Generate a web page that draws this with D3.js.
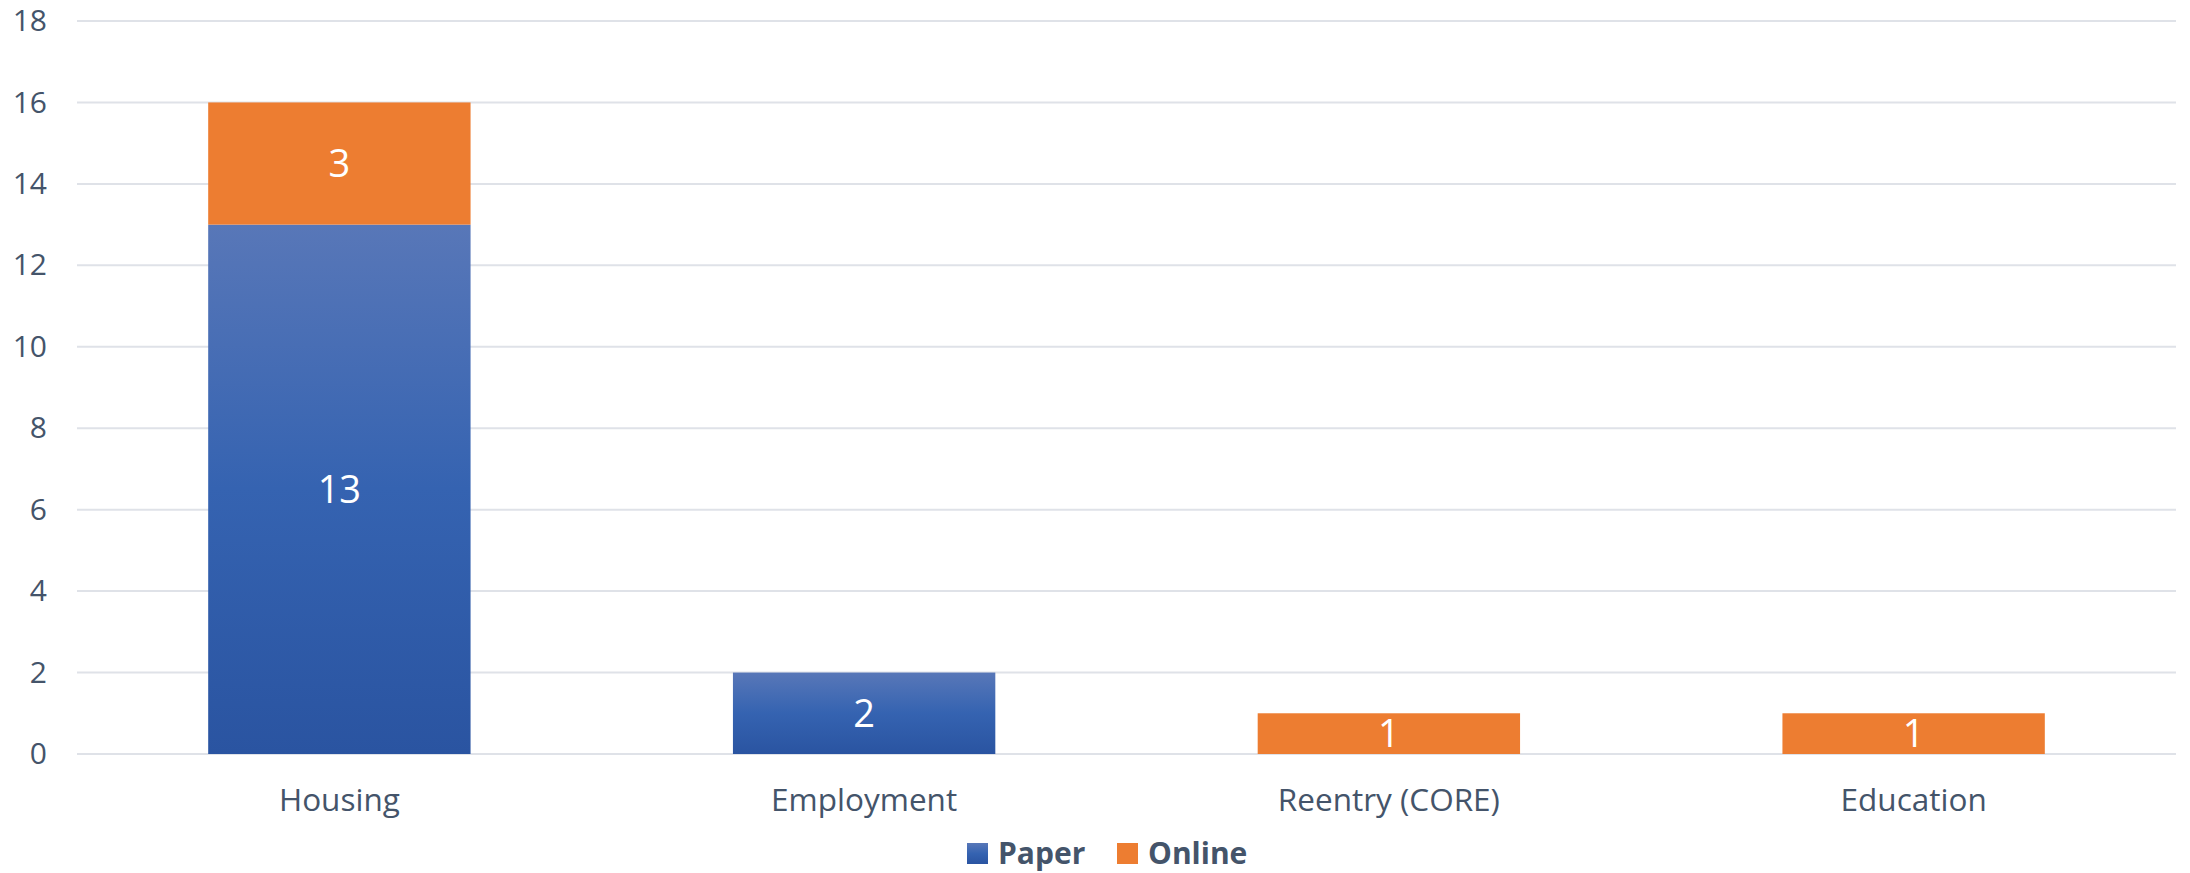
<!DOCTYPE html>
<html>
<head>
<meta charset="utf-8">
<script src="https://cdn.jsdelivr.net/npm/d3@7"></script>
<style>
  html, body { margin: 0; padding: 0; background: #fff; }
  svg text { font-family: "Open Sans", "Noto Sans", sans-serif; }
</style>
</head>
<body>
<script>
const categories = ["Housing", "Employment", "Reentry (CORE)", "Education"];
const paper = [13, 2, 0, 0];
const online = [3, 0, 1, 1];
const seriesNames = ["Paper", "Online"];
const yTicks = [0, 2, 4, 6, 8, 10, 12, 14, 16, 18];

const width = 2190;
const height = 873;
const margin = {top: 21, right: 14, bottom: 119, left: 77};

const textColor = "#44546a";
const orange = "#ed7d31";

const svg = d3.select("body").append("svg")
  .attr("width", width)
  .attr("height", height);

// blue gradient like the Excel fill
const defs = svg.append("defs");
const grad = defs.append("linearGradient")
  .attr("id", "paperGrad")
  .attr("x1", 0).attr("y1", 0).attr("x2", 0).attr("y2", 1);
grad.append("stop").attr("offset", "0%").attr("stop-color", "#5877b8");
grad.append("stop").attr("offset", "50%").attr("stop-color", "#3563b1");
grad.append("stop").attr("offset", "100%").attr("stop-color", "#2a54a1");

const fills = {Paper: "url(#paperGrad)", Online: orange};

const rows = categories.map((c, i) => ({cat: c, Paper: paper[i], Online: online[i]}));
const stacked = d3.stack().keys(seriesNames)(rows);

const x = d3.scaleBand()
  .domain(categories)
  .range([margin.left, width - margin.right])
  .paddingInner(0.5)
  .paddingOuter(0.25);

const y = d3.scaleLinear()
  .domain([0, 18])
  .range([height - margin.bottom, margin.top]);

// gridlines
svg.append("g")
  .selectAll("line")
  .data(yTicks)
  .join("line")
  .attr("x1", margin.left)
  .attr("x2", width - margin.right)
  .attr("y1", d => y(d))
  .attr("y2", d => y(d))
  .attr("stroke", "#dfe2e8")
  .attr("stroke-width", 2);

// y axis labels
const yAxis = d3.axisLeft(y).tickValues(yTicks).tickSize(0).tickPadding(30);
svg.append("g")
  .attr("transform", `translate(${margin.left},0)`)
  .call(yAxis)
  .call(g => g.select(".domain").remove())
  .call(g => g.selectAll("text")
    .attr("fill", textColor)
    .attr("font-size", 30));

// bars
const layer = svg.append("g")
  .selectAll("g")
  .data(stacked)
  .join("g")
  .attr("fill", d => fills[d.key]);

layer.selectAll("rect")
  .data(d => d.filter(p => p[1] - p[0] > 0))
  .join("rect")
  .attr("x", d => x(d.data.cat))
  .attr("width", x.bandwidth())
  .attr("y", d => y(d[1]))
  .attr("height", d => y(d[0]) - y(d[1]));

// data labels
layer.selectAll("text")
  .data(d => d.filter(p => p[1] - p[0] > 0))
  .join("text")
  .attr("x", d => x(d.data.cat) + x.bandwidth() / 2)
  .attr("y", d => (y(d[0]) + y(d[1])) / 2)
  .attr("dy", "0.36em")
  .attr("text-anchor", "middle")
  .attr("fill", "#fff")
  .attr("font-size", 38)
  .text(d => d[1] - d[0]);

// x axis labels
const xAxis = d3.axisBottom(x).tickSize(0).tickPadding(35);
svg.append("g")
  .attr("transform", `translate(0,${height - margin.bottom})`)
  .call(xAxis)
  .call(g => g.select(".domain").remove())
  .call(g => g.selectAll("text")
    .attr("fill", textColor)
    .attr("font-size", 31.5));

// legend
const legend = svg.append("g").attr("transform", "translate(967,843)");
const legendX = [0, 150];
const items = legend.selectAll("g")
  .data(seriesNames)
  .join("g")
  .attr("transform", (d, i) => `translate(${legendX[i]},0)`);
items.append("rect")
  .attr("width", 21)
  .attr("height", 21)
  .attr("fill", d => fills[d]);
items.append("text")
  .attr("x", 31)
  .attr("y", 21)
  .attr("fill", textColor)
  .attr("font-size", 30)
  .attr("font-weight", "bold")
  .text(d => d);
</script>
</body>
</html>
